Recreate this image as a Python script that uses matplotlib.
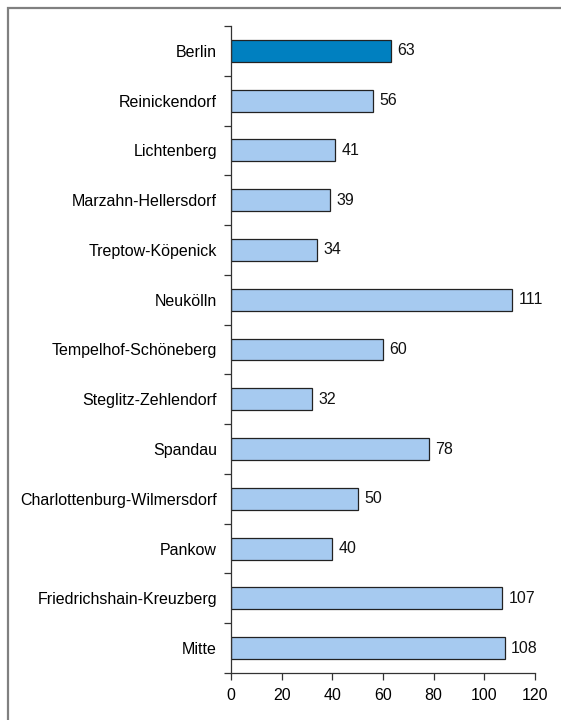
import matplotlib
matplotlib.use("Agg")
import matplotlib.pyplot as plt
from matplotlib.patches import Rectangle
import numpy as np

plt.rcParams["font.family"] = ["Liberation Sans", "DejaVu Sans"]

districts = [
    "Berlin",
    "Reinickendorf",
    "Lichtenberg",
    "Marzahn-Hellersdorf",
    "Treptow-Köpenick",
    "Neukölln",
    "Tempelhof-Schöneberg",
    "Steglitz-Zehlendorf",
    "Spandau",
    "Charlottenburg-Wilmersdorf",
    "Pankow",
    "Friedrichshain-Kreuzberg",
    "Mitte",
]
values = [63, 56, 41, 39, 34, 111, 60, 32, 78, 50, 40, 107, 108]
x_ticks = [0, 20, 40, 60, 80, 100, 120]

fs = 11.5

fig = plt.figure(figsize=(5.61, 7.2), dpi=100)

# outer frame (runs off the right and bottom edge)
fig.patches.append(Rectangle((8 / 561, -0.1), 1.2, (720 - 8) / 720 + 0.1,
                             transform=fig.transFigure, fill=False,
                             edgecolor="#808080", linewidth=1.6))

ax = fig.add_axes([231 / 561, 47 / 720, 304 / 561, 647 / 720])

y = np.arange(len(districts))
colors = ["#0080C0"] + ["#A6CAF0"] * (len(districts) - 1)
ax.barh(y, values, height=0.44, color=colors, edgecolor="#222222", linewidth=0.9)

for yi, v in zip(y, values):
    ax.text(v + 2.6, yi, str(v), va="center", ha="left", fontsize=fs, color="#111111")

ax.set_xlim(0, 120)
ax.set_ylim(len(districts) - 0.5, -0.5)
ax.set_xticks(x_ticks)
ax.set_xticklabels([str(t) for t in x_ticks], fontsize=fs)
ax.set_yticks(y)
ax.set_yticklabels(districts, fontsize=fs)
ax.set_yticks(np.arange(-0.5, len(districts), 1), minor=True)
ax.tick_params(axis="y", which="major", length=0, pad=10)
ax.tick_params(axis="y", which="minor", length=5, width=0.9, direction="out", color="#333333")
ax.tick_params(axis="x", length=5, width=0.9, color="#333333", pad=6)

for s in ["top", "right"]:
    ax.spines[s].set_visible(False)
for s in ["left", "bottom"]:
    ax.spines[s].set_linewidth(0.9)
    ax.spines[s].set_color("#333333")

fig.savefig("out.png", dpi=100)
